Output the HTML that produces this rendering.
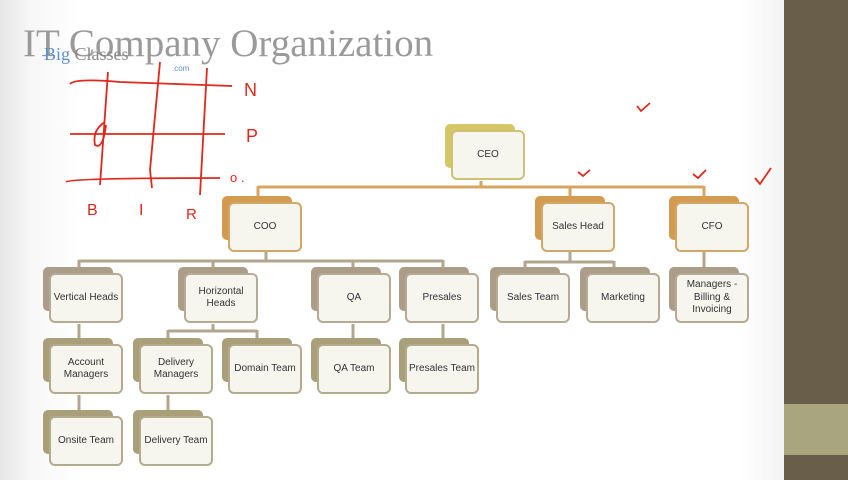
<!DOCTYPE html>
<html><head><meta charset="utf-8"><style>
body{margin:0;width:848px;height:480px;overflow:hidden;position:relative;font-family:"Liberation Sans",sans-serif;background:linear-gradient(90deg,#e6e6e6 0,#f7f7f7 30px,#fff 80px,#fff 740px,#f3f3f3 784px);}
.b{position:absolute;width:70px;height:44px;border-radius:5px}
.f{position:absolute;width:70px;height:46px;border:2.5px solid;border-radius:6px;background:#f6f6ef;display:flex;align-items:center;justify-content:center;text-align:center;font-size:10px;line-height:12.5px;color:#333}
</style></head><body>
<div style="position:absolute;left:784px;top:0;width:64px;height:480px;background:#695e49"></div>
<div style="position:absolute;left:784px;top:404px;width:64px;height:51px;background:#a9a57f"></div>
<div style="position:absolute;left:23px;top:21px;font-family:'Liberation Serif',serif;font-size:39px;color:#9a9a9a">IT Company Organization</div>
<div style="position:absolute;left:44px;top:44px;font-family:'Liberation Serif',serif;font-size:18px;color:#5b8fd0">Big <span style="color:#888">Classes</span></div>
<div style="position:absolute;left:172px;top:64px;font-size:8px;color:#5b8fd0">.com</div>
<svg width="848" height="480" style="position:absolute;left:0;top:0" fill="none" stroke="#e0281c" stroke-width="1.8">
<path d="M70 84Q75 78 120 82L232 86"/><path d="M70 134L225 134"/><path d="M66 182Q70 178 220 178"/>
<path d="M108 72L100 185"/><path d="M160 62L150 170L152 188"/><path d="M207 68L200 195"/>
<path d="M105 122Q92 130 95 145Q103 150 106 125"/>
<text x="244" y="96" fill="#e0281c" stroke="none" font-size="18">N</text>
<text x="246" y="142" fill="#e0281c" stroke="none" font-size="18">P</text>
<text x="230" y="182" fill="#e0281c" stroke="none" font-size="13">o .</text>
<text x="87" y="215" fill="#e0281c" stroke="none" font-size="16">B</text>
<text x="139" y="215" fill="#e0281c" stroke="none" font-size="16">I</text>
<text x="186" y="219" fill="#e0281c" stroke="none" font-size="15">R</text>
<path d="M637 106L641 111L650 103"/><path d="M578 172L583 176L590 170"/><path d="M693 174L698 178L706 170"/><path d="M755 178L760 184L771 168"/>
</svg>
<svg width="848" height="480" style="position:absolute;left:0;top:0" fill="none" stroke-width="3">
<g stroke="#d7a560"><path d="M481 181V187M258 187H704M258 186V196M570 186V202M704 186V202"/></g>
<g stroke="#b3a68e"><path d="M266 252V261M79 261H443M79 260V273M213 260V273M353 260V273M443 260V273"/>
<path d="M79 324V344M79 395V416M213 324V331M168 331H257M168 330V344M257 330V344M168 395V416M353 324V344M443 324V344"/>
<path d="M570 252V262M525 262H614M525 261V273M614 261V273M704 252V273"/></g>
</svg>
<div id="n"></div>
<script>
const N=[
[451,130,'CEO','#d5c766','#cfc174'],
[228,202,'COO','#d39b4f','#d4a768'],[541,202,'Sales Head','#d39b4f','#d4a768'],[675,202,'CFO','#d39b4f','#d4a768'],
[49,273,'Vertical Heads','#ab9d87','#b6aa95'],[184,273,'Horizontal<br>Heads','#ab9d87','#b6aa95'],[317,273,'QA','#ab9d87','#b6aa95'],[405,273,'Presales','#ab9d87','#b6aa95'],[496,273,'Sales Team','#ab9d87','#b6aa95'],[586,273,'Marketing','#ab9d87','#b6aa95'],[675,273,'Managers -<br>Billing &amp;<br>Invoicing','#ab9d87','#b6aa95'],
[49,344,'Account<br>Managers','#a99f78','#b3ab8b'],[139,344,'Delivery<br>Managers','#a99f78','#b3ab8b'],[228,344,'Domain Team','#a99f78','#b3ab8b'],[317,344,'QA Team','#a99f78','#b3ab8b'],[405,344,'Presales Team','#a99f78','#b3ab8b'],
[49,416,'Onsite Team','#a99f78','#b3ab8b'],[139,416,'Delivery Team','#a99f78','#b3ab8b']];
let h='';for(const[x,y,t,c,b]of N){h+=`<div class="b" style="left:${x-6}px;top:${y-6}px;background:${c}"></div><div class="f" style="left:${x}px;top:${y}px;border-color:${b}">${t}</div>`}
document.getElementById('n').innerHTML=h;
</script>
</body></html>
